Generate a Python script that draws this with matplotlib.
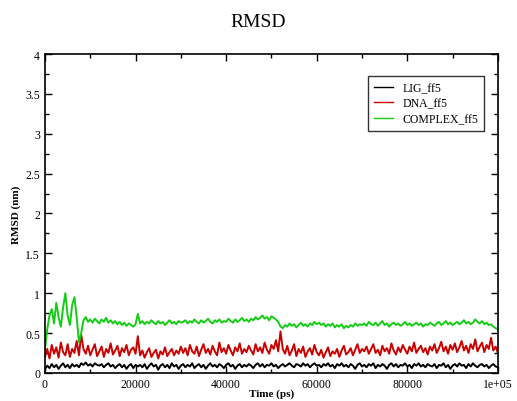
import numpy as np
import matplotlib
matplotlib.use("Agg")
import matplotlib.pyplot as plt
from matplotlib.ticker import MultipleLocator

plt.rcParams['font.family'] = ['Liberation Serif', 'DejaVu Serif']

# time axis (ps), one frame every 500 ps
time_ps = np.arange(0, 100001, 500)

lig = [0.05, 0.09, 0.06, 0.11, 0.07, 0.10, 0.05, 0.09, 0.12, 0.07, 0.10, 0.06, 0.11, 0.08, 0.10, 0.07, 0.12,
       0.10, 0.13, 0.09, 0.11, 0.08, 0.12, 0.10, 0.09, 0.11, 0.07, 0.10, 0.12, 0.08, 0.10, 0.06, 0.09, 0.11, 0.07, 0.10, 0.05, 0.09, 0.11, 0.06, 0.10,
       0.08,
       0.10, 0.07, 0.11, 0.05, 0.09, 0.12, 0.08, 0.10, 0.04, 0.09, 0.11, 0.07, 0.10, 0.06, 0.12, 0.08, 0.10, 0.05, 0.09,
       0.11, 0.07, 0.10, 0.08, 0.12, 0.06, 0.09, 0.11, 0.07, 0.10, 0.05, 0.09, 0.12, 0.08, 0.10, 0.07, 0.11, 0.09, 0.06, 0.10, 0.12, 0.08, 0.10, 0.05, 0.09, 0.11, 0.07, 0.10, 0.08, 0.11,
       0.09, 0.06, 0.10, 0.12, 0.08, 0.11, 0.07, 0.10, 0.09, 0.12, 0.08, 0.10, 0.06, 0.09,
       0.11, 0.08, 0.10, 0.12, 0.09, 0.07, 0.11, 0.10, 0.08, 0.12, 0.09, 0.11, 0.07, 0.10, 0.12, 0.09,
       0.10, 0.07, 0.11, 0.09, 0.12, 0.08, 0.10, 0.06, 0.11, 0.09, 0.12, 0.08, 0.10, 0.07, 0.11, 0.09, 0.05, 0.10, 0.12, 0.08,
       0.10, 0.07, 0.11, 0.09, 0.12, 0.06, 0.10, 0.08, 0.11, 0.09, 0.05, 0.10, 0.12, 0.08, 0.11, 0.07, 0.10, 0.09, 0.12, 0.08, 0.10, 0.06, 0.11, 0.09, 0.12, 0.08, 0.10, 0.07, 0.11, 0.09,
       0.08, 0.11, 0.06, 0.10, 0.09, 0.12, 0.07, 0.10, 0.05, 0.09, 0.11, 0.08, 0.12, 0.09, 0.10, 0.06, 0.11, 0.08, 0.12, 0.09, 0.07, 0.10, 0.11, 0.08, 0.10, 0.06, 0.09, 0.11, 0.08, 0.07]

dna = [0.20, 0.30, 0.18, 0.35, 0.24, 0.32, 0.19, 0.38, 0.26, 0.22, 0.36, 0.20, 0.30, 0.25, 0.40, 0.22, 0.48,
       0.30, 0.24, 0.34, 0.22, 0.29, 0.36, 0.21, 0.27, 0.33, 0.20, 0.30, 0.25, 0.37, 0.23, 0.28, 0.34, 0.21, 0.31, 0.26, 0.35, 0.22, 0.29, 0.32, 0.24,
       0.46,
       0.22, 0.28, 0.19, 0.26, 0.31, 0.20, 0.25, 0.29, 0.18, 0.27, 0.23, 0.32, 0.21, 0.26, 0.30, 0.22, 0.28, 0.24, 0.33,
       0.25, 0.31, 0.22, 0.35, 0.27, 0.24, 0.33, 0.21, 0.29, 0.36, 0.25, 0.30, 0.23, 0.34, 0.27, 0.22, 0.38, 0.26, 0.31, 0.24, 0.35, 0.28, 0.22, 0.32, 0.27, 0.37, 0.24, 0.30, 0.26, 0.34,
       0.28, 0.23, 0.36, 0.27, 0.32, 0.25, 0.38, 0.29, 0.24, 0.35, 0.30, 0.41, 0.27, 0.52,
       0.30, 0.24, 0.34, 0.22, 0.28, 0.36, 0.21, 0.30, 0.25, 0.33, 0.20, 0.27, 0.31, 0.23, 0.35, 0.26,
       0.22, 0.29, 0.19, 0.26, 0.32, 0.21, 0.27, 0.24, 0.30, 0.20, 0.28, 0.34, 0.23, 0.26, 0.31, 0.22, 0.29, 0.36, 0.25, 0.30,
       0.27, 0.33, 0.24, 0.30, 0.36, 0.25, 0.29, 0.22, 0.34, 0.27, 0.31, 0.24, 0.37, 0.28, 0.23, 0.32, 0.26, 0.35, 0.29, 0.24, 0.33, 0.27, 0.38, 0.25, 0.30, 0.34, 0.26, 0.31, 0.23, 0.33,
       0.28, 0.36, 0.25, 0.31, 0.39, 0.27, 0.33, 0.24, 0.35, 0.29, 0.37, 0.26, 0.32, 0.40, 0.28, 0.34, 0.25, 0.36, 0.30, 0.42, 0.27, 0.33, 0.38, 0.26, 0.35, 0.30, 0.44, 0.28, 0.33, 0.25]

cplx = [0.30, 0.55, 0.72, 0.80, 0.62, 0.88, 0.70, 0.58, 0.82, 1.00, 0.72, 0.60, 0.85, 0.95, 0.70, 0.38, 0.50,
        0.66, 0.70, 0.64, 0.67, 0.63, 0.68, 0.65, 0.62, 0.67, 0.64, 0.69, 0.63, 0.66, 0.62, 0.65, 0.61, 0.64, 0.60, 0.63, 0.59, 0.62, 0.60, 0.58, 0.61,
        0.74,
        0.62, 0.65, 0.61, 0.64, 0.62, 0.66, 0.63, 0.61, 0.65, 0.62, 0.64, 0.60, 0.63, 0.66, 0.62, 0.64, 0.61, 0.65, 0.63,
        0.64, 0.66, 0.62, 0.65, 0.63, 0.67, 0.64, 0.62, 0.66, 0.63, 0.65, 0.68, 0.64, 0.62, 0.66, 0.64, 0.67, 0.63, 0.65, 0.64, 0.68, 0.65, 0.63, 0.67, 0.64, 0.66, 0.69, 0.65, 0.67, 0.64,
        0.68, 0.66, 0.70, 0.67, 0.69, 0.72, 0.68, 0.70, 0.66, 0.71, 0.69, 0.67, 0.64, 0.58,
        0.56, 0.60, 0.58, 0.62, 0.59, 0.61, 0.57, 0.60, 0.63, 0.59, 0.61, 0.58, 0.62, 0.60, 0.64, 0.61,
        0.63, 0.60, 0.62, 0.58, 0.61, 0.59, 0.62, 0.57, 0.60, 0.58, 0.61, 0.56, 0.59, 0.57, 0.60, 0.58, 0.62, 0.59, 0.61, 0.60,
        0.62, 0.59, 0.64, 0.61, 0.60, 0.63, 0.59, 0.62, 0.65, 0.60, 0.62, 0.58, 0.61, 0.63, 0.60, 0.62, 0.59, 0.61, 0.64, 0.60, 0.62, 0.59, 0.61, 0.63, 0.60, 0.62, 0.58, 0.61, 0.60, 0.63,
        0.61, 0.59, 0.62, 0.64, 0.60, 0.62, 0.65, 0.61, 0.63, 0.60, 0.62, 0.64, 0.61, 0.63, 0.66, 0.62, 0.64, 0.61, 0.63, 0.67, 0.64, 0.62, 0.65, 0.61, 0.63, 0.60, 0.61, 0.58, 0.56, 0.55]

series_names = ['LIG_ff5', 'DNA_ff5', 'COMPLEX_ff5']
xtick_vals = [0, 20000, 40000, 60000, 80000, 100000]
xtick_labels = ['0', '20000', '40000', '60000', '80000', '1e+05']
ytick_vals = [0, 0.5, 1, 1.5, 2, 2.5, 3, 3.5, 4]
ytick_labels = ['0', '0.5', '1', '1.5', '2', '2.5', '3', '3.5', '4']

fig = plt.figure(figsize=(5.17, 4.02), dpi=100)
ax = fig.add_axes([0.087, 0.070, 0.876, 0.793])

# thicker lines to mimic the dense, noisy bands of the original trajectory
ax.plot(time_ps, lig, color='black', lw=1.4, label=series_names[0])
ax.plot(time_ps, dna, color='#c80000', lw=1.4, label=series_names[1])
ax.plot(time_ps, cplx, color='#14cc14', lw=1.4, label=series_names[2])

ax.set_xlim(0, 100000)
ax.set_ylim(0, 4)
ax.set_xticks(xtick_vals)
ax.set_xticklabels(xtick_labels)
ax.set_yticks(ytick_vals)
ax.set_yticklabels(ytick_labels)
ax.xaxis.set_minor_locator(MultipleLocator(10000))
ax.yaxis.set_minor_locator(MultipleLocator(0.25))
ax.tick_params(which='both', direction='in', top=True, right=True, labelsize=8.5, width=1)
ax.tick_params(which='major', length=5)
ax.tick_params(which='minor', length=3)
for s in ax.spines.values():
    s.set_linewidth(1.2)

ax.set_xlabel('Time (ps)', fontsize=8, fontweight='bold', labelpad=-1)
ax.set_ylabel('RMSD (nm)', fontsize=8, fontweight='bold', labelpad=3)
fig.text(0.5, 0.945, 'RMSD', ha='center', va='center', fontsize=14)

leg = ax.legend(loc='upper left', bbox_to_anchor=(0.70, 0.95), fontsize=8.5,
                frameon=True, fancybox=False, edgecolor='black', handlelength=1.6,
                borderpad=0.5, labelspacing=0.3)
leg.get_frame().set_linewidth(1.0)
for line in leg.get_lines():
    line.set_linewidth(1.0)

fig.savefig('out.png', dpi=100)
